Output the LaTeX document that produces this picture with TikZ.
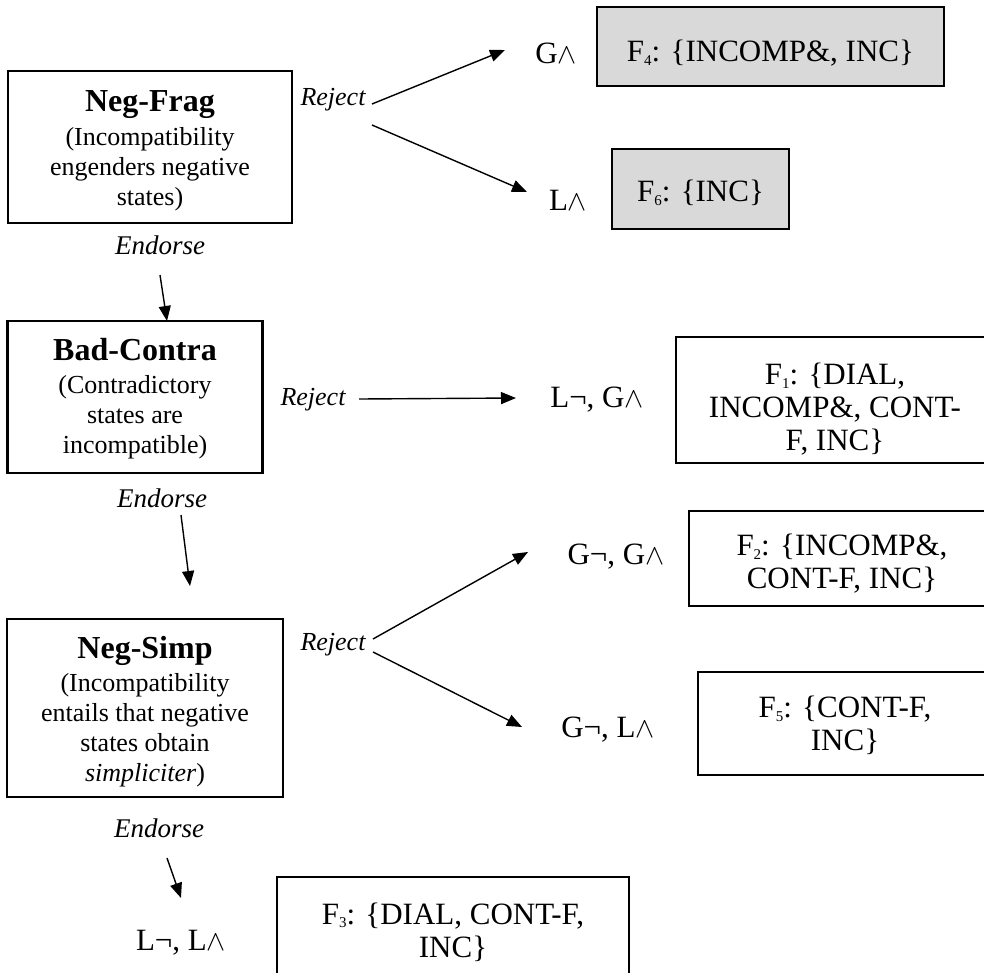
\documentclass[tikz,border=0pt]{standalone}
\usepackage{fontspec}
\setmainfont{Liberation Serif}
\usetikzlibrary{arrows.meta}
\definecolor{boxgray}{HTML}{D9D9D9}
\newcommand{\andsym}{\scalebox{1.15}{\ensuremath{\wedge}}}
\newcommand{\fsub}[1]{\raisebox{-0.12em}{\fontsize{15}{15}\selectfont #1}}
\newcommand{\stack}[1]{\begin{tabular}{@{}c@{}}#1\end{tabular}}
\newcommand{\lowerby}[2]{\raisebox{-#1}[\height][\depth]{#2}}
\begin{document}
\begin{tikzpicture}[x=1pt,y=-1pt,
  every node/.style={inner sep=0pt, outer sep=0pt},
  claim/.style={draw=black, line width=2.5pt, align=center, font=\fontsize{26}{30}\selectfont},
  fbox/.style={draw=black, line width=2.5pt, align=center, font=\fontsize{31}{33}\selectfont},
  grayfbox/.style={fbox, fill=boxgray},
  lab/.style={font=\fontsize{31}{33}\selectfont},
  verdict/.style={font=\fontsize{26}{30}\selectfont\itshape},
  endorse/.style={font=\fontsize{27}{30}\selectfont\itshape},
  arr/.style={line width=1.4pt, -{Triangle[length=15pt,width=12pt]}}
]
\useasboundingbox (0,0) rectangle (984,972);
\clip (0,0) rectangle (984,972);

% ---------- Neg-Frag ----------
\node[claim, minimum width=284pt, minimum height=152pt] (negfrag) at (150,147)
  {\lowerby{5pt}{\stack{{\fontsize{32}{34}\selectfont\bfseries Neg-Frag}\\[4pt]
   (Incompatibility\\ engenders negative\\ states)}}};
\node[verdict] (rej1) at (333,100) {Reject};
\node[endorse] (end1) at (160,245) {Endorse};
\coordinate (r1a) at (372,104);
\coordinate (r1b) at (505,50);
\coordinate (r1c) at (372,125);
\coordinate (r1d) at (527,192);
\node[lab] (gand) at (556,53) {G\andsym};
\node[grayfbox, minimum width=347pt, minimum height=79pt] (f4) at (770.5,46.5)
  {\lowerby{7pt}{F\fsub{4}: \{INCOMP\&, INC\}}};
\node[lab] (land) at (568,200) {L\andsym};
\node[grayfbox, minimum width=177pt, minimum height=80pt] (f6) at (700.5,189)
  {\lowerby{4pt}{F\fsub{6}: \{INC\}}};
\draw[arr] (r1a) -- (r1b);
\draw[arr] (r1c) -- (r1d);

% ---------- Bad-Contra ----------
\coordinate (e1a) at (160,275);
\coordinate (e1b) at (167,321);
\draw[arr] (e1a) -- (e1b);
\node[claim, minimum width=255pt, minimum height=152pt] (badcontra) at (135,397)
  {\lowerby{3pt}{\stack{{\fontsize{32}{34}\selectfont\bfseries Bad-Contra}\\[3pt]
   (Contradictory\\ states are\\ incompatible)}}};
\node[verdict] (rej2) at (313,400) {Reject};
\coordinate (r2a) at (359,399);
\coordinate (r2b) at (516,398);
\draw[arr] (r2a) -- (r2b);
\node[lab] (lngand) at (597,400) {L¬, G\andsym};
\node[fbox, minimum width=318pt, minimum height=126pt] (f1) at (835,400)
  {\lowerby{11pt}{\stack{F\fsub{1}: \{DIAL,\\ INCOMP\&, CONT-\\ F, INC\}}}};
\node[endorse] (end2) at (162,498) {Endorse};

% ---------- Neg-Simp ----------
\coordinate (e2a) at (181,515);
\coordinate (e2b) at (190,586);
\draw[arr] (e2a) -- (e2b);
\node[claim, minimum width=276pt, minimum height=178pt] (negsimp) at (145,708)
  {\lowerby{5pt}{\stack{{\fontsize{32}{34}\selectfont\bfseries Neg-Simp}\\[3pt]
   (Incompatibility\\ entails that negative\\ states obtain\\ \textit{simpliciter})}}};
\node[verdict] (rej3) at (333,645) {Reject};
\coordinate (r3a) at (373,639);
\coordinate (r3b) at (528,552);
\coordinate (r3c) at (373,652);
\coordinate (r3d) at (522,727);
\draw[arr] (r3a) -- (r3b);
\draw[arr] (r3c) -- (r3d);
\node[lab] (gngand) at (616,557) {G¬, G\andsym};
\node[fbox, minimum width=306pt, minimum height=95pt] (f2) at (842,558.5)
  {\lowerby{7pt}{\stack{F\fsub{2}: \{INCOMP\&,\\ CONT-F, INC\}}}};
\node[lab] (gnland) at (608,730) {G¬, L\andsym};
\node[fbox, minimum width=294pt, minimum height=103pt] (f5) at (845,723.5)
  {\lowerby{4pt}{\stack{F\fsub{5}: \{CONT-F,\\ INC\}}}};
\node[endorse] (end3) at (159,828) {Endorse};

% ---------- final ----------
\coordinate (e3a) at (167,858);
\coordinate (e3b) at (181,898);
\draw[arr] (e3a) -- (e3b);
\node[lab] (lnland) at (181,943) {L¬, L\andsym};
\node[fbox, minimum width=352pt, minimum height=106pt] (f3) at (453,930)
  {\lowerby{4pt}{\stack{F\fsub{3}: \{DIAL, CONT-F,\\ INC\}}}};
\end{tikzpicture}
\end{document}
